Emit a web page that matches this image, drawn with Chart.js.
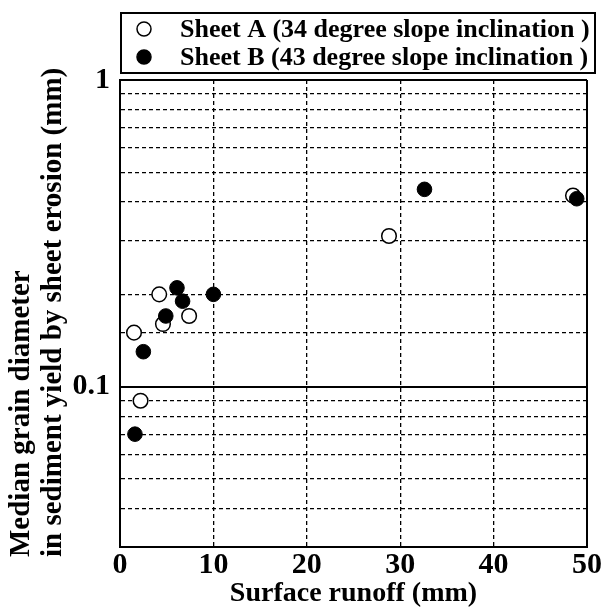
<!DOCTYPE html>
<html>
<head>
<meta charset="utf-8">
<script src="https://cdn.jsdelivr.net/npm/chart.js@4.4.0/dist/chart.umd.min.js"></script>
<style>
  html, body { margin: 0; padding: 0; background: #fff; }
  #wrap { width: 603px; height: 612px; }
</style>
</head>
<body>
<div id="wrap"><canvas id="myChart" width="603" height="612"></canvas></div>
<script>
// values
const sheetA_runoff = [1.5, 2.2, 4.2, 4.6, 7.4, 28.8, 48.5];
const sheetA_d50 = [0.15, 0.09, 0.20, 0.16, 0.17, 0.31, 0.42];
const sheetB_runoff = [1.6, 2.5, 4.9, 6.1, 6.7, 10.0, 32.6, 48.9];
const sheetB_d50 = [0.07, 0.13, 0.17, 0.21, 0.19, 0.20, 0.44, 0.41];

const seriesNames = [
    'Sheet A (34 degree slope inclination )',
    'Sheet B (43 degree slope inclination )'
];
const xTicks = [0, 10, 20, 30, 40, 50];
const yMin = 0.03;
const yMax = 1;
const yTickLabels = [0.1, 1];
const xTitle = 'Surface runoff (mm)';
const yTitle = ['Median grain diameter', 'in sediment yield by sheet erosion (mm)'];

const serif = '"Liberation Serif", "Times New Roman", serif';
Chart.defaults.font.family = serif;
Chart.defaults.color = '#000';

function toPoints(xs, ys) {
    return xs.map((x, i) => ({ x: x, y: ys[i] }));
}

function sameVal(a, b) {
    return Math.abs(Math.log10(a) - Math.log10(b)) < 1e-6;
}

// legend with a frame, drawn above the plot
const boxLegend = {
    id: 'boxLegend',
    afterDraw(chart) {
        const ctx = chart.ctx;
        ctx.save();
        ctx.strokeStyle = '#000';
        ctx.lineWidth = 2;
        ctx.strokeRect(121, 13, 474, 60);
        ctx.font = 'bold 26px ' + serif;
        ctx.textBaseline = 'alphabetic';
        ctx.textAlign = 'left';
        chart.data.datasets.forEach((ds, i) => {
            const cy = 29 + i * 28;
            ctx.beginPath();
            ctx.arc(144, cy, 7, 0, Math.PI * 2);
            ctx.fillStyle = ds.backgroundColor;
            ctx.fill();
            ctx.lineWidth = 1.5;
            ctx.strokeStyle = '#000';
            ctx.stroke();
            ctx.fillStyle = '#000';
            ctx.fillText(ds.label, 180, cy + 8);
        });
        ctx.restore();
    }
};

// two-line rotated y title, starting at the bottom
const yTitlePlugin = {
    id: 'yTitlePlugin',
    afterDraw(chart) {
        const ctx = chart.ctx;
        ctx.save();
        ctx.font = 'bold 29px ' + serif;
        ctx.fillStyle = '#000';
        ctx.textAlign = 'left';
        ctx.textBaseline = 'alphabetic';
        yTitle.forEach((line, i) => {
            ctx.save();
            ctx.translate(29 + i * 31.5, 557);
            ctx.rotate(-Math.PI / 2);
            ctx.fillText(line, 0, 0);
            ctx.restore();
        });
        ctx.restore();
    }
};

const data = {
    datasets: [{
        label: seriesNames[0],
        data: toPoints(sheetA_runoff, sheetA_d50),
        backgroundColor: '#fff',
        borderColor: '#000',
        borderWidth: 1.5,
        pointRadius: 7.3,
        order: 1
    }, {
        label: seriesNames[1],
        data: toPoints(sheetB_runoff, sheetB_d50),
        backgroundColor: '#000',
        borderColor: '#000',
        borderWidth: 1,
        pointRadius: 7.3,
        order: 0
    }]
};

const config = {
    type: 'scatter',
    data: data,
    options: {
        responsive: false,
        animation: false,
        clip: false,
        layout: { padding: { top: 80, right: 16, left: 0, bottom: 0 } },
        plugins: {
            legend: { display: false },
            tooltip: { enabled: false }
        },
        scales: {
            x: {
                type: 'linear',
                min: xTicks[0],
                max: xTicks[xTicks.length - 1],
                afterBuildTicks: s => { s.ticks = xTicks.map(v => ({ value: v })); },
                afterFit: s => { s.height = 65; },
                ticks: {
                    font: { size: 30, weight: 'bold' },
                    padding: 0,
                    color: '#000',
                    maxRotation: 0
                },
                grid: {
                    drawTicks: false,
                    color: '#000',
                    lineWidth: c => (c.tick && (c.tick.value === xTicks[0] || c.tick.value === xTicks[xTicks.length - 1])) ? 2 : 1.3
                },
                border: {
                    color: '#000',
                    width: 2,
                    dash: c => (c.type === 'tick' && c.tick.value !== xTicks[0] && c.tick.value !== xTicks[xTicks.length - 1]) ? [4, 3] : []
                },
                title: {
                    display: true,
                    text: xTitle,
                    font: { size: 28, weight: 'bold' },
                    color: '#000',
                    padding: { top: 0, bottom: 1 }
                }
            },
            y: {
                type: 'logarithmic',
                min: yMin,
                max: yMax,
                afterFit: s => { s.width = 120; },
                ticks: {
                    autoSkip: false,
                    font: { size: 30, weight: 'bold' },
                    padding: 10,
                    color: '#000',
                    callback: v => {
                        const hit = yTickLabels.find(t => sameVal(t, v));
                        return hit !== undefined ? String(hit) : '';
                    }
                },
                grid: {
                    drawTicks: false,
                    color: '#000',
                    lineWidth: c => (c.tick && yTickLabels.some(t => sameVal(t, c.tick.value))) ? 2 : 1.3
                },
                border: {
                    color: '#000',
                    width: 2,
                    dash: c => (c.type === 'tick' && !yTickLabels.some(t => sameVal(t, c.tick.value)) && !sameVal(c.tick.value, yMin)) ? [4, 3] : []
                }
            }
        }
    },
    plugins: [boxLegend, yTitlePlugin]
};

const myChart = new Chart(document.getElementById('myChart'), config);
</script>
</body>
</html>
